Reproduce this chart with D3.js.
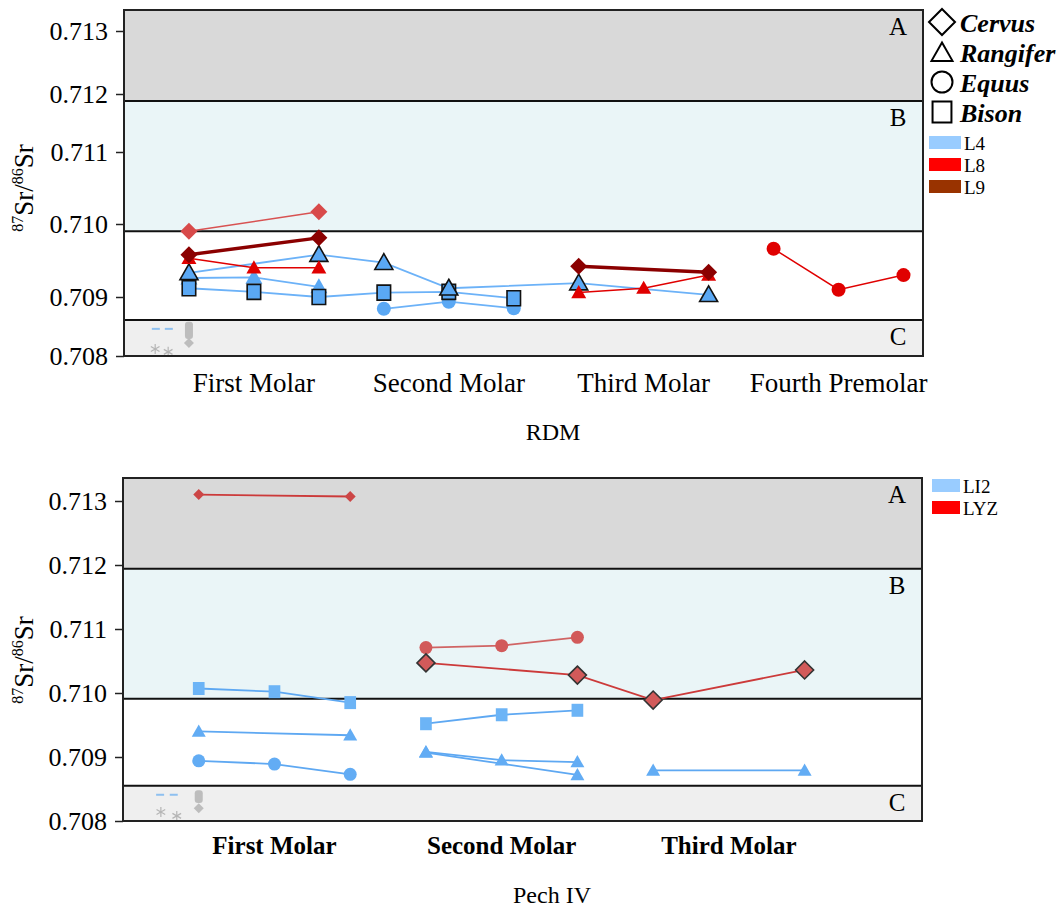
<!DOCTYPE html>
<html>
<head>
<meta charset="utf-8">
<script src="https://cdn.jsdelivr.net/npm/d3@7"></script>
<style>
  body { margin: 0; background: #fff; }
  text { font-family: "Liberation Serif", "Times New Roman", serif; fill: #000; }
</style>
</head>
<body>
<svg id="chart" width="1060" height="909"></svg>
<script>
// shared y ticks (87Sr/86Sr)
const yTicks = [0.708, 0.709, 0.710, 0.711, 0.712, 0.713];

// ---- RDM panel ----
const rdmCategories = ["First Molar", "Second Molar", "Third Molar", "Fourth Premolar"];
const rdmCategoryAt = [1, 4, 7, 10];
const rdmZones = [0.71188, 0.70990, 0.70861];   // A/B, B/local, local/C
// [sample index, value]
const rdmL4Rangifer = [[0, 0.70933], [2, 0.70958], [3, 0.70947], [4, 0.70912], [6, 0.70919], [8, 0.70903]];
const rdmL4RangiferB = [[0, 0.70926], [1, 0.70927], [2, 0.70914]];
const rdmL4Bison = [[0, 0.70912], [1, 0.70907], [2, 0.70900], [3, 0.70906], [4, 0.70907], [5, 0.70898]];
const rdmL4Equus = [[3, 0.70880], [4, 0.70892], [5, 0.70881]];
const rdmL8Cervus = [[0, 0.70990], [2, 0.71017]];
const rdmL8Rangifer = [[0, 0.70953], [1, 0.70940], [2, 0.70940]];
const rdmL8RangiferM3 = [[6, 0.70906], [7, 0.70912], [8, 0.70930]];
const rdmL8Equus = [[9, 0.70966], [10, 0.70910], [11, 0.70930]];
const rdmL9Cervus = [[0, 0.70958], [2, 0.70981]];
const rdmL9CervusM3 = [[6, 0.70942], [8, 0.70934]];
// grey baseline marks in zone C
const rdmRefDash = [[-0.51, 0.70846], [-0.31, 0.70846]];
const rdmRefStar = [[-0.52, 0.70812], [-0.32, 0.70807]];
const rdmRefBar = [[0, 0.70858, 0.70829]];
const rdmRefDot = [[0, 0.70822]];

// ---- Pech IV panel ----
const pechCategories = ["First Molar", "Second Molar", "Third Molar"];
const pechCategoryAt = [1, 4, 7];
const pechZones = [0.71194, 0.70991, 0.70855];
const pechLYZCervusSmall = [[0, 0.71310], [2, 0.71307]];
const pechLYZCervus = [[3, 0.71047], [5, 0.71028], [6, 0.70989], [8, 0.71036]];
const pechLYZEquus = [[3, 0.71071], [4, 0.71074], [5, 0.71087]];
const pechLI2Bison = [[0, 0.71007], [1, 0.71002], [2, 0.70985]];
const pechLI2BisonM2 = [[3, 0.70952], [4, 0.70966], [5, 0.70973]];
const pechLI2Rangifer = [[0, 0.70940], [2, 0.70934]];
const pechLI2RangiferM2 = [[3, 0.70908], [4, 0.70895], [5, 0.70892]];
const pechLI2RangiferM2b = [[3, 0.70907], [5, 0.70872]];
const pechLI2RangiferM3 = [[6, 0.70879], [8, 0.70879]];
const pechLI2Equus = [[0, 0.70894], [1, 0.70889], [2, 0.70873]];
const pechRefDash = [[-0.51, 0.70841], [-0.33, 0.70841]];
const pechRefStar = [[-0.50, 0.70814], [-0.29, 0.70808]];
const pechRefBar = [[0, 0.70848, 0.70828]];
const pechRefDot = [[0, 0.70820]];

const taxa = ["Cervus", "Rangifer", "Equus", "Bison"];
const taxaShapes = ["diamond", "triangle", "circle", "square"];
const rdmLevels = ["L4", "L8", "L9"];
const pechLevels = ["LI2", "LYZ"];

// styles
const looks = {
  blueEdge: { fill: "#5aa8f4", stroke: "#111", line: "#6cb2f8", lw: 1.8 },
  blue:     { fill: "#5aa8f4", stroke: "none", line: "#6cb2f8", lw: 1.8 },
  red:      { fill: "#e00000", stroke: "none", line: "#e00000", lw: 1.5 },
  redSoft:  { fill: "#d84a4a", stroke: "none", line: "#d85252", lw: 1.6 },
  darkRed:  { fill: "#8b0000", stroke: "none", line: "#8b0000", lw: 3.5 },
  lBlue:    { fill: "#62acf4", stroke: "none", line: "#5ea8f2", lw: 1.8 },
  lSquare:  { fill: "#6cb4f6", stroke: "none", line: "#5ea8f2", lw: 1.8 },
  lRed:     { fill: "#cc4646", stroke: "none", line: "#cc3a3a", lw: 1.8 },
  lRedCirc: { fill: "#d25a5a", stroke: "none", line: "#d06464", lw: 1.8 },
  lRedEdge: { fill: "#d25a5a", stroke: "#333", line: "#cc3a3a", lw: 1.8 }
};
const levelColors = { L4: "#99ccff", L8: "#ff0000", L9: "#993300", LI2: "#99ccff", LYZ: "#ff0000" };

const rdmSeries = [
  { data: rdmL4Equus, shape: "circle", r: 7, look: "blue" },
  { data: rdmL4RangiferB, shape: "triangle", r: 8.5, look: "blue" },
  { data: rdmL4Bison, shape: "square", r: 7.5, look: "blueEdge" },
  { data: rdmL4Rangifer, shape: "triangle", r: 9, look: "blueEdge" },
  { data: rdmL8Rangifer, shape: "triangle", r: 7.5, look: "red" },
  { data: rdmL8RangiferM3, shape: "triangle", r: 7.5, look: "red" },
  { data: rdmL8Equus, shape: "circle", r: 7, look: "red" },
  { data: rdmL8Cervus, shape: "diamond", r: 8.5, look: "redSoft" },
  { data: rdmL9Cervus, shape: "diamond", r: 8.5, look: "darkRed" },
  { data: rdmL9CervusM3, shape: "diamond", r: 8.5, look: "darkRed" }
];
const pechSeries = [
  { data: pechLYZCervusSmall, shape: "diamond", r: 5.5, look: "lRed" },
  { data: pechLYZEquus, shape: "circle", r: 6.5, look: "lRedCirc" },
  { data: pechLYZCervus, shape: "diamond", r: 9, look: "lRedEdge" },
  { data: pechLI2Bison, shape: "square", r: 6.5, look: "lSquare" },
  { data: pechLI2BisonM2, shape: "square", r: 6.5, look: "lSquare" },
  { data: pechLI2Rangifer, shape: "triangle", r: 7, look: "lBlue" },
  { data: pechLI2RangiferM2, shape: "triangle", r: 7, look: "lBlue" },
  { data: pechLI2RangiferM2b, shape: "triangle", r: 7, look: "lBlue" },
  { data: pechLI2RangiferM3, shape: "triangle", r: 7, look: "lBlue" },
  { data: pechLI2Equus, shape: "circle", r: 6.5, look: "lBlue" }
];

const panels = [
  {
    cats: rdmCategories, catAt: rdmCategoryAt, zones: rdmZones, series: rdmSeries,
    refs: { dash: rdmRefDash, star: rdmRefStar, bar: rdmRefBar, dot: rdmRefDot },
    left: 124, right: 923, top: 10, bottom: 356, xDomain: [-1, 11.3],
    tickY: [356, 297, 224, 152, 94, 31],  // source axis is unevenly spaced
    catY: 392, catSize: 27, catWeight: "normal",
    title: "RDM", titleX: 553, titleY: 440, yTitleX: 33, yTitleY: 188
  },
  {
    cats: pechCategories, catAt: pechCategoryAt, zones: pechZones, series: pechSeries,
    refs: { dash: pechRefDash, star: pechRefStar, bar: pechRefBar, dot: pechRefDot },
    left: 123, right: 922, top: 478, bottom: 821, xDomain: [-1, 9.55],
    tickY: [821, 757, 693, 629, 565, 501],
    catY: 854, catSize: 25, catWeight: "bold",
    title: "Pech IV", titleX: 552, titleY: 903, yTitleX: 33, yTitleY: 660
  }
];

const svg = d3.select("#chart");

function shapePath(type, r) {
  if (type === "diamond") return `M0,${-r}L${r},0L0,${r}L${-r},0Z`;
  if (type === "triangle") return `M0,${-r}L${r},${r * 0.75}L${-r},${r * 0.75}Z`;
  if (type === "square") return `M${-r * 0.9},${-r}H${r * 0.9}V${r}H${-r * 0.9}Z`;
  return d3.symbol(d3.symbolCircle, Math.PI * r * r)();
}

function drawPanel(p) {
  const g = svg.append("g");
  const x = d3.scaleLinear().domain(p.xDomain).range([p.left, p.right]);
  const y = d3.scaleLinear().domain(yTicks).range(p.tickY);
  const yTop = y.invert(p.top);

  // background zones
  const bands = [yTop].concat(p.zones, [yTicks[0]]);
  const bandFill = ["#d9d9d9", "#eaf5f7", "#ffffff", "#efefef"];
  g.selectAll("rect.band").data(d3.pairs(bands)).join("rect")
    .attr("x", p.left).attr("width", p.right - p.left)
    .attr("y", d => y(d[0])).attr("height", d => y(d[1]) - y(d[0]))
    .attr("fill", (d, i) => bandFill[i]);
  g.selectAll("line.zone").data(p.zones).join("line")
    .attr("x1", p.left).attr("x2", p.right)
    .attr("y1", d => y(d)).attr("y2", d => y(d))
    .attr("stroke", "#111").attr("stroke-width", 2);
  g.selectAll("text.zone").data(["A", "B", "C"]).join("text")
    .attr("x", p.right - 25).attr("text-anchor", "middle")
    .attr("y", (d, i) => y([yTop, p.zones[0], p.zones[2]][i]) + 25)
    .attr("font-size", 25).text(d => d);

  // baseline reference marks
  g.selectAll("line.rdash").data(p.refs.dash).join("line")
    .attr("x1", d => x(d[0]) - 4).attr("x2", d => x(d[0]) + 4)
    .attr("y1", d => y(d[1])).attr("y2", d => y(d[1]))
    .attr("stroke", "#8ec0f0").attr("stroke-width", 2);
  p.refs.star.forEach(d => {
    const cx = x(d[0]), cy = y(d[1]);
    [0, 60, 120].forEach(a => {
      const dx = 5 * Math.sin(a * Math.PI / 180), dy = 5 * Math.cos(a * Math.PI / 180);
      g.append("line").attr("x1", cx - dx).attr("x2", cx + dx)
        .attr("y1", cy - dy).attr("y2", cy + dy)
        .attr("stroke", "#b5b5b5").attr("stroke-width", 1.2);
    });
  });
  g.selectAll("rect.rbar").data(p.refs.bar).join("rect")
    .attr("x", d => x(d[0]) - 4).attr("width", 8)
    .attr("y", d => y(d[1])).attr("height", d => y(d[2]) - y(d[1]))
    .attr("rx", 3).attr("fill", "#bdbdbd");
  g.selectAll("path.rdot").data(p.refs.dot).join("path")
    .attr("d", shapePath("diamond", 5))
    .attr("transform", d => `translate(${x(d[0])},${y(d[1])})`)
    .attr("fill", "#bdbdbd");

  // series lines
  const line = d3.line().x(d => x(d[0])).y(d => y(d[1]));
  g.selectAll("path.series").data(p.series).join("path")
    .attr("d", s => line(s.data)).attr("fill", "none")
    .attr("stroke", s => looks[s.look].line)
    .attr("stroke-width", s => looks[s.look].lw);
  // markers
  p.series.forEach(s => {
    const lk = looks[s.look];
    g.selectAll(null).data(s.data).join("path")
      .attr("d", shapePath(s.shape, s.r))
      .attr("transform", d => `translate(${x(d[0])},${y(d[1])})`)
      .attr("fill", lk.fill).attr("stroke", lk.stroke).attr("stroke-width", 1.6);
  });

  // frame
  g.append("rect").attr("x", p.left).attr("y", p.top)
    .attr("width", p.right - p.left).attr("height", p.bottom - p.top)
    .attr("fill", "none").attr("stroke", "#222").attr("stroke-width", 2);

  // y axis
  const ax = g.append("g").attr("transform", `translate(${p.left},0)`)
    .call(d3.axisLeft(y).tickValues(yTicks).tickFormat(d3.format(".3f")).tickSize(8).tickPadding(8));
  ax.select(".domain").remove();
  ax.selectAll("line").attr("stroke", "#222").attr("stroke-width", 1.5);
  ax.selectAll("text").attr("font-size", 26).attr("font-family", "Liberation Serif, serif").attr("fill", "#000");

  const yt = g.append("text")
    .attr("transform", `translate(${p.yTitleX},${p.yTitleY}) rotate(-90)`)
    .attr("text-anchor", "middle").attr("font-size", 27);
  yt.append("tspan").attr("font-size", 16).attr("dy", -10).text("87");
  yt.append("tspan").attr("dy", 10).text("Sr/");
  yt.append("tspan").attr("font-size", 16).attr("dy", -10).text("86");
  yt.append("tspan").attr("dy", 10).text("Sr");

  // category labels and title
  g.selectAll("text.cat").data(p.cats).join("text")
    .attr("x", (d, i) => x(p.catAt[i])).attr("y", p.catY)
    .attr("text-anchor", "middle").attr("font-size", p.catSize)
    .attr("font-weight", p.catWeight).text(d => d);
  g.append("text").attr("x", p.titleX).attr("y", p.titleY)
    .attr("text-anchor", "middle").attr("font-size", 24).text(p.title);
}

panels.forEach(drawPanel);

// taxon legend (top)
const tl = svg.append("g");
taxa.forEach((t, i) => {
  const cy = 22 + i * 30;
  tl.append("path").attr("d", shapePath(taxaShapes[i], taxaShapes[i] === "diamond" ? 13 : 10.5))
    .attr("transform", `translate(942,${cy + (taxaShapes[i] === "triangle" ? 1 : 0)})`)
    .attr("fill", "none").attr("stroke", "#000").attr("stroke-width", 2);
  tl.append("text").attr("x", 960).attr("y", cy + 10)
    .attr("font-size", 26).attr("font-weight", "bold").attr("font-style", "italic").text(t);
});
// level legends
function levelLegend(levels, x0, y0, step, w, h) {
  levels.forEach((l, i) => {
    svg.append("rect").attr("x", x0).attr("y", y0 + i * step).attr("width", w).attr("height", h)
      .attr("fill", levelColors[l]);
    svg.append("text").attr("x", x0 + w + 3).attr("y", y0 + i * step + h + 1)
      .attr("font-size", 19).text(l);
  });
}
levelLegend(rdmLevels, 929, 136, 22, 32, 13);
levelLegend(pechLevels, 932, 479, 22, 28, 13);
</script>
</body>
</html>
